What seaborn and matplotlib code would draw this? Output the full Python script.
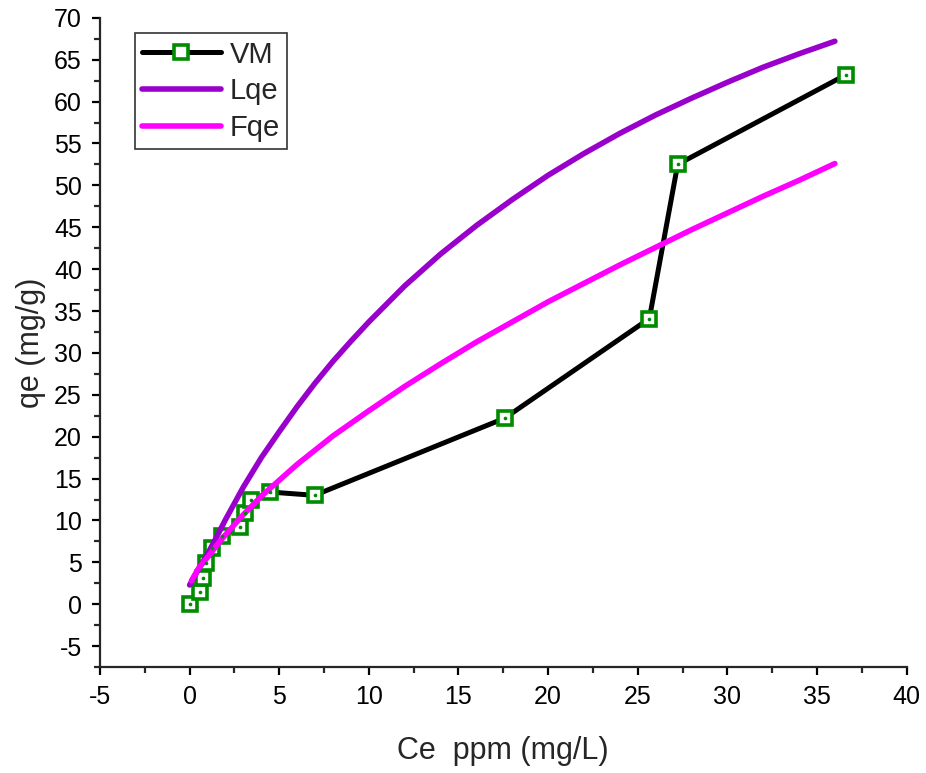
import matplotlib
matplotlib.use('Agg')
import matplotlib.pyplot as plt
from matplotlib.ticker import MultipleLocator
import seaborn as sns

# VM experimental points
vm_ce = [0.0, 0.56, 0.74, 0.93, 1.27, 1.82, 2.79, 3.07, 3.44, 4.46, 6.97, 17.57, 25.65, 27.23, 36.62]
vm_qe = [0.0, 1.5, 3.1, 4.9, 6.7, 8.2, 9.2, 10.9, 12.4, 13.4, 13.0, 22.2, 34.1, 52.5, 63.2]

# Langmuir model curve
lqe_ce = [0, 0.5, 1, 1.5, 2, 3, 4, 5, 6, 7, 8, 9, 10, 12, 14, 16, 18,
          20, 22, 24, 26, 28, 30, 32, 34, 36]
lqe_qe = [2.3, 4.2, 6.0, 8.0, 10.1, 14.0, 17.5, 20.6, 23.6, 26.4, 29.0, 31.4, 33.7,
          38.0, 41.8, 45.2, 48.3, 51.2, 53.8, 56.2, 58.4, 60.4, 62.3, 64.1, 65.7, 67.2]

# Freundlich model curve
fqe_ce = [0.1, 0.5, 1, 1.5, 2, 3, 4, 5, 6, 7, 8, 9, 10, 12, 14, 16, 18,
          20, 22, 24, 26, 28, 30, 32, 34, 36]
fqe_qe = [2.8, 4.3, 5.6, 7.0, 8.3, 10.7, 12.9, 14.8, 16.7, 18.4, 20.1, 21.6, 23.1,
          26.0, 28.7, 31.3, 33.7, 36.1, 38.3, 40.5, 42.6, 44.7, 46.7, 48.7, 50.6, 52.6]

GREEN = '#008C00'

sns.set_theme(style='ticks')
plt.rcParams['font.family'] = ['Liberation Sans', 'DejaVu Sans']
plt.rcParams.update({
    'axes.unicode_minus': False,
    'xtick.direction': 'out', 'ytick.direction': 'out',
    'xtick.major.size': 6, 'ytick.major.size': 6,
    'xtick.minor.size': 4, 'ytick.minor.size': 4,
    'xtick.major.width': 1.6, 'ytick.major.width': 1.6,
    'xtick.minor.width': 1.6, 'ytick.minor.width': 1.6,
    'axes.linewidth': 1.6,
})

fig = plt.figure(figsize=(9.26, 7.73), dpi=100)
ax = fig.add_axes([0.108, 0.137, 0.871, 0.840])

sns.lineplot(
    x=vm_ce, y=vm_qe, sort=False, estimator=None, ax=ax, color='black', lw=3.6,
    marker='s', markersize=10.5, markerfacecolor='white', markeredgecolor=GREEN,
    markeredgewidth=2.6, label='VM'
)
sns.scatterplot(x=vm_ce, y=vm_qe, ax=ax, color=GREEN, s=7, linewidth=0,
                legend=False, zorder=5)
sns.lineplot(x=lqe_ce, y=lqe_qe, sort=False, estimator=None, ax=ax,
             color='#9900CC', lw=4, label='Lqe')
sns.lineplot(x=fqe_ce, y=fqe_qe, sort=False, estimator=None, ax=ax,
             color='#FF00FF', lw=4, label='Fqe')

ax.set_xlim(-5, 40)
ax.set_ylim(-7.5, 70)
ax.xaxis.set_major_locator(MultipleLocator(5))
ax.xaxis.set_minor_locator(MultipleLocator(2.5))
ax.yaxis.set_major_locator(MultipleLocator(5))
ax.yaxis.set_minor_locator(MultipleLocator(2.5))
ax.tick_params(labelsize=18, colors='black', pad=7)
sns.despine(ax=ax)

ax.set_xlabel('Ce  ppm (mg/L)', fontsize=22, labelpad=19)
ax.set_ylabel('qe (mg/g)', fontsize=22, labelpad=6)

leg = ax.legend(
    loc='upper left', bbox_to_anchor=(0.043, 0.976), fontsize=21,
    handlelength=2.7, frameon=True, fancybox=False, edgecolor='black',
    borderpad=0.25, labelspacing=0.3, handletextpad=0.3, borderaxespad=0
)
leg.get_frame().set_linewidth(1.2)

fig.savefig('out.png', dpi=100, facecolor='white')
